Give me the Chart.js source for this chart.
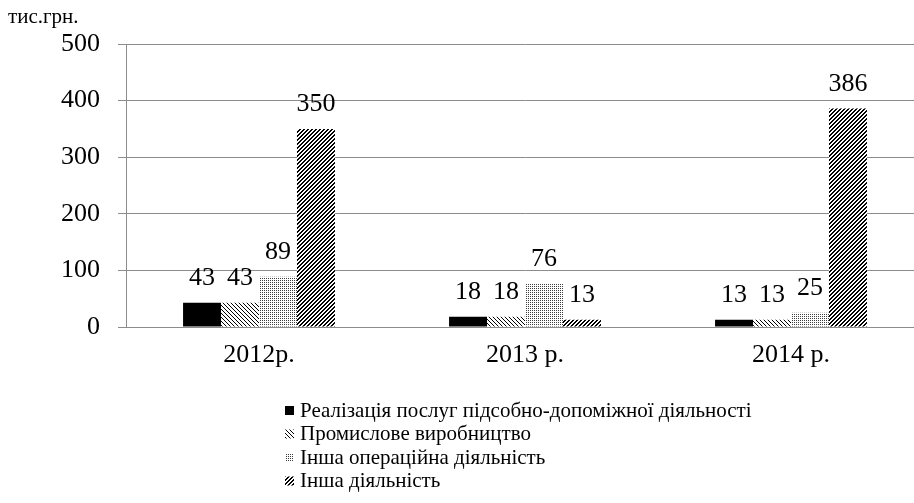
<!DOCTYPE html>
<html>
<head>
<meta charset="utf-8">
<script src="https://cdn.jsdelivr.net/npm/chart.js@4.4.1/dist/chart.umd.min.js"></script>
<style>
    html, body { margin: 0; padding: 0; background: #fff; overflow: hidden; }
    #wrap { width: 930px; height: 503px; }
</style>
</head>
<body>
<div id="wrap"><canvas id="chart" width="930" height="503"></canvas></div>
<script>
// Data
const years = ['2012р.', '2013 р.', '2014 р.'];
const seriesNames = [
    'Реалізація послуг підсобно-допоміжної діяльності',
    'Промислове виробництво',
    'Інша операційна діяльність',
    'Інша діяльність'
];
const serviceSales = [43, 18, 13];
const industrialProduction = [43, 18, 13];
const otherOperating = [89, 76, 25];
const otherActivity = [350, 13, 386];
const yTicks = [0, 100, 200, 300, 400, 500];
const unitLabel = 'тис.грн.';

const SERIF = '"Liberation Serif", "Times New Roman", serif';
const GRID = '#8c8c8c';

// pixel patterns, like the hatch fills in the original
function makePattern(kind) {
    const size = kind === 'dots' ? 2 : 4;
    const c = document.createElement('canvas');
    c.width = size;
    c.height = size;
    const g = c.getContext('2d');
    const img = g.createImageData(size, size);
    for (let y = 0; y < size; y++) {
        for (let x = 0; x < size; x++) {
            let dark = false;
            if (kind === 'solid') dark = true;
            if (kind === 'back') dark = ((x - y + size * 4) % size) === 0;
            if (kind === 'dots') dark = (x === 0 && y === 0);
            if (kind === 'fwd') dark = ((x + y) % size) < 2;
            const i = (y * size + x) * 4;
            const v = dark ? (kind === 'dots' ? 60 : 0) : 255;
            img.data[i] = v;
            img.data[i + 1] = v;
            img.data[i + 2] = v;
            img.data[i + 3] = 255;
        }
    }
    g.putImageData(img, 0, 0);
    return g.createPattern(c, 'repeat');
}

const fills = [
    makePattern('solid'),
    makePattern('back'),
    makePattern('dots'),
    makePattern('fwd')
];

const valueLabels = {
    id: 'valueLabels',
    afterDatasetsDraw(chart) {
        const ctx = chart.ctx;
        ctx.save();
        ctx.font = '26px ' + SERIF;
        ctx.fillStyle = '#000';
        ctx.textAlign = 'center';
        ctx.textBaseline = 'alphabetic';
        chart.data.datasets.forEach((ds, i) => {
            chart.getDatasetMeta(i).data.forEach((bar, j) => {
                ctx.fillText(String(ds.data[j]), bar.x, bar.y - 18);
            });
        });
        ctx.restore();
    }
};

const sideTexts = {
    id: 'sideTexts',
    afterDraw(chart) {
        const ctx = chart.ctx;
        ctx.save();
        ctx.fillStyle = '#000';
        ctx.textBaseline = 'middle';
        ctx.textAlign = 'left';

        ctx.font = '21px ' + SERIF;
        ctx.fillText(unitLabel, 8, 17);

        // legend: one item per line, left aligned
        ctx.font = '21px ' + SERIF;
        const left = 285;
        let y = 411;
        chart.data.datasets.forEach((ds, i) => {
            ctx.fillStyle = fills[i];
            ctx.fillRect(left, y - 5, 9, 9);
            ctx.fillStyle = '#000';
            ctx.fillText(ds.label, left + 15, y);
            y += 23.5;
        });
        ctx.restore();
    }
};

const ctx = document.getElementById('chart').getContext('2d');
new Chart(ctx, {
    type: 'bar',
    data: {
        labels: years,
        datasets: [
            { label: seriesNames[0], data: serviceSales, backgroundColor: fills[0] },
            { label: seriesNames[1], data: industrialProduction, backgroundColor: fills[1] },
            { label: seriesNames[2], data: otherOperating, backgroundColor: fills[2] },
            { label: seriesNames[3], data: otherActivity, backgroundColor: fills[3] }
        ]
    },
    options: {
        responsive: false,
        animation: false,
        layout: { padding: { top: 44, right: 6, bottom: 0, left: 0 } },
        datasets: {
            bar: { barPercentage: 1, categoryPercentage: 0.571, borderWidth: 0 }
        },
        plugins: {
            legend: { display: false },
            tooltip: { enabled: false }
        },
        scales: {
            x: {
                grid: { display: false, drawTicks: false },
                border: { display: true, color: GRID, width: 1 },
                ticks: { color: '#000', padding: 13, font: { family: SERIF, size: 26 } },
                afterFit(scale) { scale.height = 176; }
            },
            y: {
                min: 0,
                max: 500,
                afterBuildTicks(scale) { scale.ticks = yTicks.map(v => ({ value: v })); },
                grid: { color: GRID, lineWidth: 1, tickLength: 8 },
                border: { display: true, color: GRID, width: 1 },
                ticks: { color: '#000', padding: 18, font: { family: SERIF, size: 26 } },
                afterFit(scale) { scale.width = 126; }
            }
        }
    },
    plugins: [valueLabels, sideTexts]
});
</script>
</body>
</html>
